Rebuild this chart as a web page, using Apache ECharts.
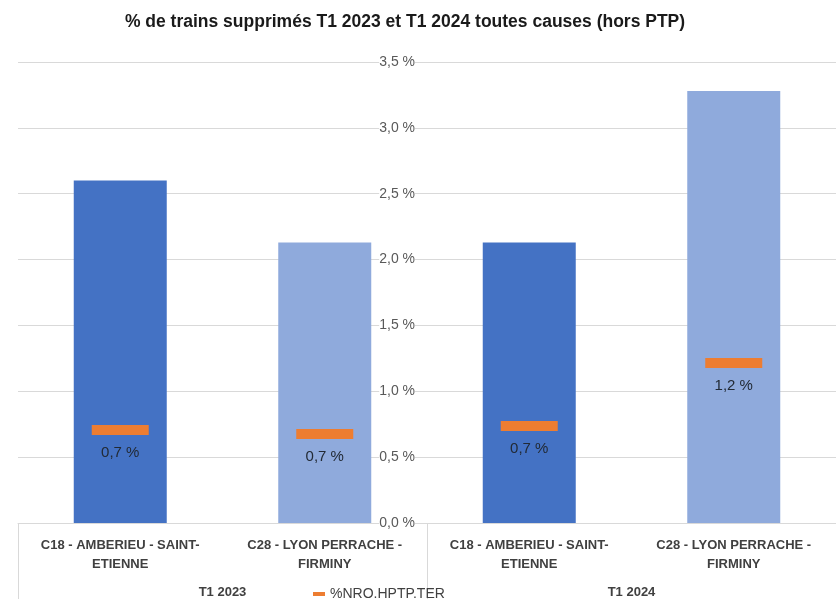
<!DOCTYPE html>
<html lang="fr">
<head>
<meta charset="UTF-8">
<style>
html, body { height: 100%; margin: 0; background: #fff; }
</style>
</head>
<body>
<div id="chart" style="width:836px;height:599px;"></div>
<script src="https://cdn.jsdelivr.net/npm/echarts@6/dist/echarts.min.js"></script>
<script>
// données
var categories = ['C18 - AMBERIEU - SAINT-\nETIENNE', 'C28 - LYON PERRACHE -\nFIRMINY',
                  'C18 - AMBERIEU - SAINT-\nETIENNE', 'C28 - LYON PERRACHE -\nFIRMINY'];
var groups = ['T1 2023', 'T1 2024'];
var supprimes = [2.60, 2.13, 2.13, 3.28];
var nro = [0.706, 0.676, 0.737, 1.215];
var yTicks = [0, 0.5, 1, 1.5, 2, 2.5, 3, 3.5];

var barColors = ['#4472C4', '#8FAADC', '#4472C4', '#8FAADC'];
var font = 'Liberation Sans';

function pct(v) {
    return v.toFixed(1).replace('.', ',') + ' %';
}

var myChart = echarts.init(document.getElementById('chart'));
myChart.setOption({
    animation: false,
    title: {
        text: '% de trains supprimés T1 2023 et T1 2024 toutes causes (hors PTP)',
        left: 400,
        textAlign: 'center',
        top: 8,
        textStyle: { fontFamily: font, fontSize: 17.5, fontWeight: 'bold', color: '#1a1a1a' }
    },
    legend: {
        data: ['%NRO.HPTP.TER'],
        left: 308,
        top: 582,
        icon: 'rect',
        itemWidth: 12,
        itemHeight: 4,
        textStyle: { fontFamily: font, fontSize: 14, color: '#404040' }
    },
    grid: { left: 18, top: 62, width: 825, height: 461 },
    xAxis: [
        {
            type: 'category',
            data: categories,
            axisLine: { lineStyle: { color: '#d9d9d9' } },
            axisTick: { show: false },
            axisLabel: {
                interval: 0,
                margin: 13,
                lineHeight: 19,
                fontFamily: font, fontSize: 13, fontWeight: 'bold', color: '#404040'
            }
        },
        {
            type: 'category',
            data: groups,
            position: 'bottom',
            axisLine: { show: false },
            axisTick: { show: true, length: 80, lineStyle: { color: '#d9d9d9' } },
            axisLabel: {
                margin: 63,
                fontFamily: font, fontSize: 13, fontWeight: 'bold', color: '#404040'
            }
        }
    ],
    yAxis: {
        type: 'value',
        min: 0,
        max: yTicks[yTicks.length - 1],
        interval: yTicks[1] - yTicks[0],
        offset: -412,
        axisLine: { show: false },
        axisTick: { show: false },
        splitLine: { lineStyle: { color: '#d9d9d9' } },
        axisLabel: {
            margin: 15,
            formatter: pct,
            fontFamily: font, fontSize: 14, color: '#595959',
            backgroundColor: '#fff'
        }
    },
    series: [
        {
            name: 'supprimés',
            type: 'bar',
            barWidth: 93,
            data: supprimes.map(function (v, i) {
                return { value: v, itemStyle: { color: barColors[i] } };
            })
        },
        {
            name: '%NRO.HPTP.TER',
            type: 'scatter',
            symbol: 'rect',
            symbolSize: [57, 10],
            itemStyle: { color: '#ED7D31', opacity: 1 },
            data: nro,
            label: {
                show: true,
                position: 'bottom',
                distance: 10,
                formatter: function (p) { return pct(p.value); },
                fontFamily: font, fontSize: 15, color: '#222a35'
            }
        }
    ]
});
</script>
</body>
</html>
